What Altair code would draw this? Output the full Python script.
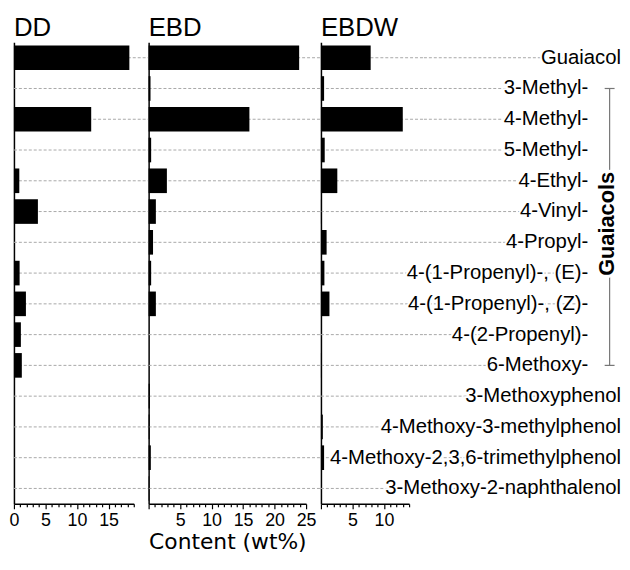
import altair as alt
import pandas as pd

FONT = "Liberation Sans"

compounds = [
    "Guaiacol", "3-Methyl-", "4-Methyl-", "5-Methyl-", "4-Ethyl-", "4-Vinyl-",
    "4-Propyl-", "4-(1-Propenyl)-, (E)-", "4-(1-Propenyl)-, (Z)-",
    "4-(2-Propenyl)-", "6-Methoxy-", "3-Methoxyphenol",
    "4-Methoxy-3-methylphenol", "4-Methoxy-2,3,6-trimethylphenol",
    "3-Methoxy-2-naphthalenol",
]
groups = [""] + ["Guaiacols"] * 10 + [""] * 4

dd = [18.3, 0, 12.25, 0, 0.85, 3.8, 0, 0.9, 1.9, 1.1, 1.25, 0, 0, 0, 0]
ebd = [23.9, 0.3, 16.0, 0.4, 2.9, 1.15, 0.7, 0.4, 1.15, 0, 0, 0.2, 0.15, 0.35, 0.1]
ebdw = [7.9, 0.5, 13.0, 0.6, 2.6, 0.1, 0.9, 0.55, 1.35, 0, 0.15, 0, 0.3, 0.5, 0]

panel_names = ["DD", "EBD", "EBDW"]
panel_values = [dd, ebd, ebdw]
x_max = [19, 25, 14]
panel_width = [121, 159, 89]
hide_zero = [False, True, True]
axis_titles = [None, "Content (wt%)", None]

H = 466
GAP = 15
LABEL_W = 199
SUB_END = 166
BRACKET_X = 187.5
GRP_X = 185
GRID = "#a8a8a8"

yscale = alt.Scale(domain=compounds, paddingInner=0.2, paddingOuter=0.1)


def make_panel(name, values, xmax, w, hz, atitle):
    df = pd.DataFrame({"compound": compounds, "value": values})
    base = alt.Chart(df)
    ydef = alt.Y(
        "compound:N", scale=yscale,
        axis=alt.Axis(title=None, labels=False, ticks=False, grid=False,
                      domain=True, domainColor="black", domainWidth=1.5),
    )
    grid = base.mark_rule(stroke=GRID, strokeDash=[3, 2], strokeWidth=1).encode(
        y=ydef, x=alt.value(0), x2=alt.value(w + GAP)
    )
    if hz:
        lexpr = "(datum.value % 5 === 0 && datum.value !== 0) ? datum.label : ''"
    else:
        lexpr = "datum.value % 5 === 0 ? datum.label : ''"
    axis_kwargs = dict(
        values=list(range(0, xmax + 1)),
        labelExpr=lexpr,
        labelOverlap=False,
        labelFlush=False,
        labelFontSize=18,
        labelColor="black",
        labelFont=FONT,
        labelPadding=3,
        tickColor="black",
        tickWidth=1.2,
        tickSize={"condition": {"test": "datum.value % 5 === 0", "value": 5}, "value": 3},
        domainColor="black",
        domainWidth=1.5,
        grid=False,
    )
    if atitle:
        axis_kwargs.update(title=atitle, titleFontSize=22, titleFontWeight="normal",
                           titleFont="DejaVu Sans", titleColor="black", titlePadding=2)
    else:
        axis_kwargs.update(title=None)
    bars = base.mark_bar(color="black").encode(
        x=alt.X("value:Q", scale=alt.Scale(domain=[0, xmax], nice=False),
                axis=alt.Axis(**axis_kwargs)),
        y=ydef,
    )
    return alt.layer(grid, bars).properties(
        width=w, height=H,
        title=alt.TitleParams(text=name, anchor="start", frame="group", fontSize=26,
                              font=FONT, fontWeight="normal", color="black", offset=1),
    )


panels = [
    make_panel(n, v, m, w, h, t)
    for n, v, m, w, h, t in zip(panel_names, panel_values, x_max, panel_width,
                                 hide_zero, axis_titles)
]

ldf = pd.DataFrame({"compound": compounds, "group": groups})
lbase = alt.Chart(ldf)
yl = alt.Y("compound:N", scale=yscale, axis=None)
main_f = alt.datum.group != "Guaiacols"
sub_f = alt.datum.group == "Guaiacols"

rules_main = lbase.transform_filter(main_f).mark_rule(
    stroke=GRID, strokeDash=[3, 2], strokeWidth=1
).encode(y=yl, x=alt.value(0), x2=alt.value(LABEL_W))
rules_sub = lbase.transform_filter(sub_f).mark_rule(
    stroke=GRID, strokeDash=[3, 2], strokeWidth=1
).encode(y=yl, x=alt.value(0), x2=alt.value(SUB_END))

text_style = dict(align="right", baseline="middle", fontSize=20.5, font=FONT)
halo_main = lbase.transform_filter(main_f).mark_text(
    color="white", stroke="white", strokeWidth=4, **text_style
).encode(y=yl, x=alt.value(LABEL_W), text="compound:N")
halo_sub = lbase.transform_filter(sub_f).mark_text(
    color="white", stroke="white", strokeWidth=4, **text_style
).encode(y=yl, x=alt.value(SUB_END), text="compound:N")
txt_main = lbase.transform_filter(main_f).mark_text(color="black", **text_style).encode(
    y=yl, x=alt.value(LABEL_W), text="compound:N")
txt_sub = lbase.transform_filter(sub_f).mark_text(color="black", **text_style).encode(
    y=yl, x=alt.value(SUB_END), text="compound:N")

one = alt.Chart(pd.DataFrame({"label": ["Guaiacols"]}))
sub_list = [c for c, g in zip(compounds, groups) if g == "Guaiacols"]
BR = "#777777"
bracket = one.mark_rule(stroke=BR, strokeWidth=1.2).encode(
    y=alt.Y(datum=sub_list[0], scale=yscale, axis=None),
    y2=alt.Y2(datum=sub_list[-1]),
    x=alt.value(BRACKET_X),
)
cap_top = one.mark_rule(stroke=BR, strokeWidth=1.2).encode(
    y=alt.Y(datum=sub_list[0], scale=yscale, axis=None),
    x=alt.value(BRACKET_X - 5), x2=alt.value(BRACKET_X + 5),
)
cap_bot = one.mark_rule(stroke=BR, strokeWidth=1.2).encode(
    y=alt.Y(datum=sub_list[-1], scale=yscale, axis=None),
    x=alt.value(BRACKET_X - 5), x2=alt.value(BRACKET_X + 5),
)
mid_row = sub_list[len(sub_list) // 2 - 1]
grp_style = dict(angle=270, fontSize=22, fontWeight="bold", font=FONT,
                 align="center", baseline="middle")
grp_halo = one.mark_text(color="white", stroke="white", strokeWidth=6, **grp_style).encode(
    y=alt.Y(datum=mid_row, scale=yscale, axis=None, bandPosition=1),
    x=alt.value(GRP_X), text="label:N")
grp_text = one.mark_text(color="black", **grp_style).encode(
    y=alt.Y(datum=mid_row, scale=yscale, axis=None, bandPosition=1),
    x=alt.value(GRP_X), text="label:N")

label_panel = alt.layer(
    rules_main, rules_sub, halo_main, halo_sub, txt_main, txt_sub,
    bracket, cap_top, cap_bot, grp_halo, grp_text,
).properties(width=LABEL_W, height=H)

chart = alt.hconcat(*panels, label_panel, spacing=GAP, bounds="flush").properties(
    padding={"left": 0, "top": 5, "right": 0, "bottom": 0}
).configure(font=FONT).configure_view(stroke=None)

chart.save("out.html", embed_options={"renderer": "svg", "actions": False})
